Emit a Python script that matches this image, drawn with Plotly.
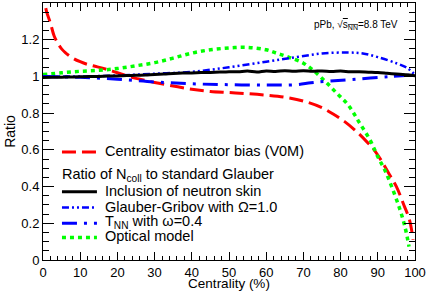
import plotly.graph_objects as go

# ---------------- data ----------------
bias_x = [0, 0.5, 1, 2, 3, 4, 5, 6, 8, 10, 12, 14, 16, 18, 20, 23, 26, 30, 35, 40, 45, 50,
          55, 60, 65, 70, 75, 78, 81, 84, 87, 89, 91, 93, 95, 97, 98.5, 99.5]
bias_y = [1.48, 1.40, 1.35, 1.29, 1.22, 1.18, 1.15, 1.13, 1.10, 1.08, 1.065, 1.055, 1.045,
          1.033, 1.02, 1.0, 0.985, 0.967, 0.948, 0.93, 0.918, 0.912, 0.906, 0.898, 0.887,
          0.866, 0.83, 0.795, 0.755, 0.705, 0.645, 0.60, 0.54, 0.47, 0.40, 0.30, 0.22, 0.11]

skin_x = [0, 2.5, 5, 7.5, 10, 12.5, 15, 17.5, 20, 22.5, 25, 27.5, 30, 32.5, 35, 37.5, 40,
          42.5, 45, 47.5, 50, 52.5, 55, 57.5, 60, 62.5, 65, 67.5, 70, 72.5, 75, 77.5, 80,
          82.5, 85, 87.5, 90, 92.5, 95, 97.5, 100]
skin_y = [0.994, 0.995, 0.996, 0.997, 0.998, 0.999, 1.000, 1.002, 1.003, 1.005, 1.006,
          1.008, 1.011, 1.013, 1.016, 1.018, 1.019, 1.021, 1.022, 1.024, 1.025, 1.026,
          1.029, 1.024, 1.030, 1.027, 1.031, 1.028, 1.031, 1.028, 1.030, 1.027, 1.029,
          1.026, 1.025, 1.023, 1.021, 1.017, 1.013, 1.009, 1.004]

gg_x = [0, 10, 20, 30, 40, 50, 60, 68, 75, 82, 86, 90, 95, 98, 100]
gg_y = [1.0, 1.0, 1.005, 1.015, 1.025, 1.05, 1.08, 1.105, 1.125, 1.13, 1.125, 1.105,
        1.072, 1.045, 1.008]

tnn_x = [0, 10, 20, 30, 40, 50, 60, 68, 72, 76, 84, 93, 100]
tnn_y = [1.0, 0.995, 0.985, 0.97, 0.96, 0.955, 0.953, 0.955, 0.965, 0.973, 0.985, 0.999,
         1.008]

opt_x = [0, 5, 10, 15, 20, 25, 30, 35, 40, 45, 50, 55, 60, 63, 66, 70, 73, 76, 79, 82,
         85, 88, 90, 92, 94, 96, 97.3, 98.4]
opt_y = [1.01, 1.02, 1.028, 1.033, 1.043, 1.058, 1.075, 1.10, 1.127, 1.145, 1.155, 1.158,
         1.145, 1.125, 1.105, 1.072, 1.027, 0.97, 0.908, 0.845, 0.75, 0.65, 0.563, 0.485,
         0.385, 0.272, 0.18, 0.073]

y_tickvals = [0, 0.2, 0.4, 0.6, 0.8, 1.0, 1.2]
y_ticktext = ["0", "0.2", "0.4", "0.6", "0.8", "1", "1.2"]
x_tickvals = [0, 10, 20, 30, 40, 50, 60, 70, 80, 90, 100]

legend_labels = ["Centrality estimator bias (V0M)",
                 "Inclusion of neutron skin",
                 "Glauber-Gribov with \u03a9=1.0",
                 "T<sub>NN</sub> with \u03c9=0.4",
                 "Optical model"]
legend_header = "Ratio of N<sub>coll</sub> to standard Glauber"

# ---------------- styles ----------------
FONT = "Liberation Sans, Arial, Helvetica, sans-serif"
sty_bias = dict(color="#ff0000", width=3, dash="14px,6px")
sty_skin = dict(color="#000000", width=3)
sty_gg = dict(color="#0000ff", width=2.5, dash="7px,3px,2px,3px,2px,3px")
sty_tnn = dict(color="#0000ff", width=3, dash="15px,7px,3px,7px")
sty_opt = dict(color="#00ff00", width=3.5, dash="4px,4px")

fig = go.Figure()
for xs, ys, st, nm in [(bias_x, bias_y, sty_bias, legend_labels[0]),
                       (opt_x, opt_y, sty_opt, legend_labels[4]),
                       (gg_x, gg_y, sty_gg, legend_labels[2]),
                       (tnn_x, tnn_y, sty_tnn, legend_labels[3]),
                       (skin_x, skin_y, sty_skin, legend_labels[1])]:
    fig.add_trace(go.Scatter(x=xs, y=ys, mode="lines", line=dict(st, shape="spline"),
                             name=nm, showlegend=False))

# manual legend (paper coordinates)
leg_rows = [(0.420, sty_bias, legend_labels[0]),
            (0.266, sty_skin, legend_labels[1]),
            (0.204, sty_gg, legend_labels[2]),
            (0.143, sty_tnn, legend_labels[3]),
            (0.088, sty_opt, legend_labels[4])]
shapes = []
annots = []
for yy, st, lab in leg_rows:
    shapes.append(dict(type="line", xref="paper", yref="paper", x0=0.051, x1=0.145,
                       y0=yy, y1=yy, line=st))
    annots.append(dict(text=lab, xref="paper", yref="paper", x=0.161, y=yy + 0.004,
                       xanchor="left", yanchor="middle", showarrow=False,
                       font=dict(family=FONT, size=14.5, color="black")))
annots.append(dict(text=legend_header, xref="paper", yref="paper", x=0.045, y=0.330,
                   xanchor="left", yanchor="middle", showarrow=False,
                   font=dict(family=FONT, size=14.5, color="black")))
annots.append(dict(text="pPb, \u221a<span style='text-decoration:overline'>s<sub>NN</sub></span>=8.8 TeV",
                   xref="paper", yref="paper", x=0.723, y=0.914, xanchor="left",
                   yanchor="middle", showarrow=False,
                   font=dict(family=FONT, size=10, color="black")))

axis_common = dict(showline=True, linecolor="black", linewidth=1, mirror="allticks",
                   ticks="inside", tickcolor="black", showgrid=False, zeroline=False,
                   automargin=False,
                   tickfont=dict(family=FONT, size=13, color="black"))

fig.update_layout(
    width=427, height=291,
    margin=dict(l=43, r=12, t=3, b=31),
    paper_bgcolor="white", plot_bgcolor="white",
    showlegend=False,
    shapes=shapes, annotations=annots,
    xaxis=dict(axis_common, range=[0, 100], tickvals=x_tickvals, ticklen=8,
               minor=dict(ticks="inside", dtick=2, ticklen=4, tickcolor="black"),
               title=dict(text="Centrality (%)", standoff=0,
                          font=dict(family=FONT, size=13.5, color="black"))),
    yaxis=dict(axis_common, range=[0, 1.4], tickvals=y_tickvals, ticktext=y_ticktext,
               ticklen=11,
               minor=dict(ticks="inside", dtick=0.05, ticklen=6, tickcolor="black"),
               title=dict(text="Ratio", standoff=2,
                          font=dict(family=FONT, size=14, color="black"))),
)

fig.write_html("out.html", config={"displayModeBar": False},
               post_script="document.body.style.margin='0px';")
